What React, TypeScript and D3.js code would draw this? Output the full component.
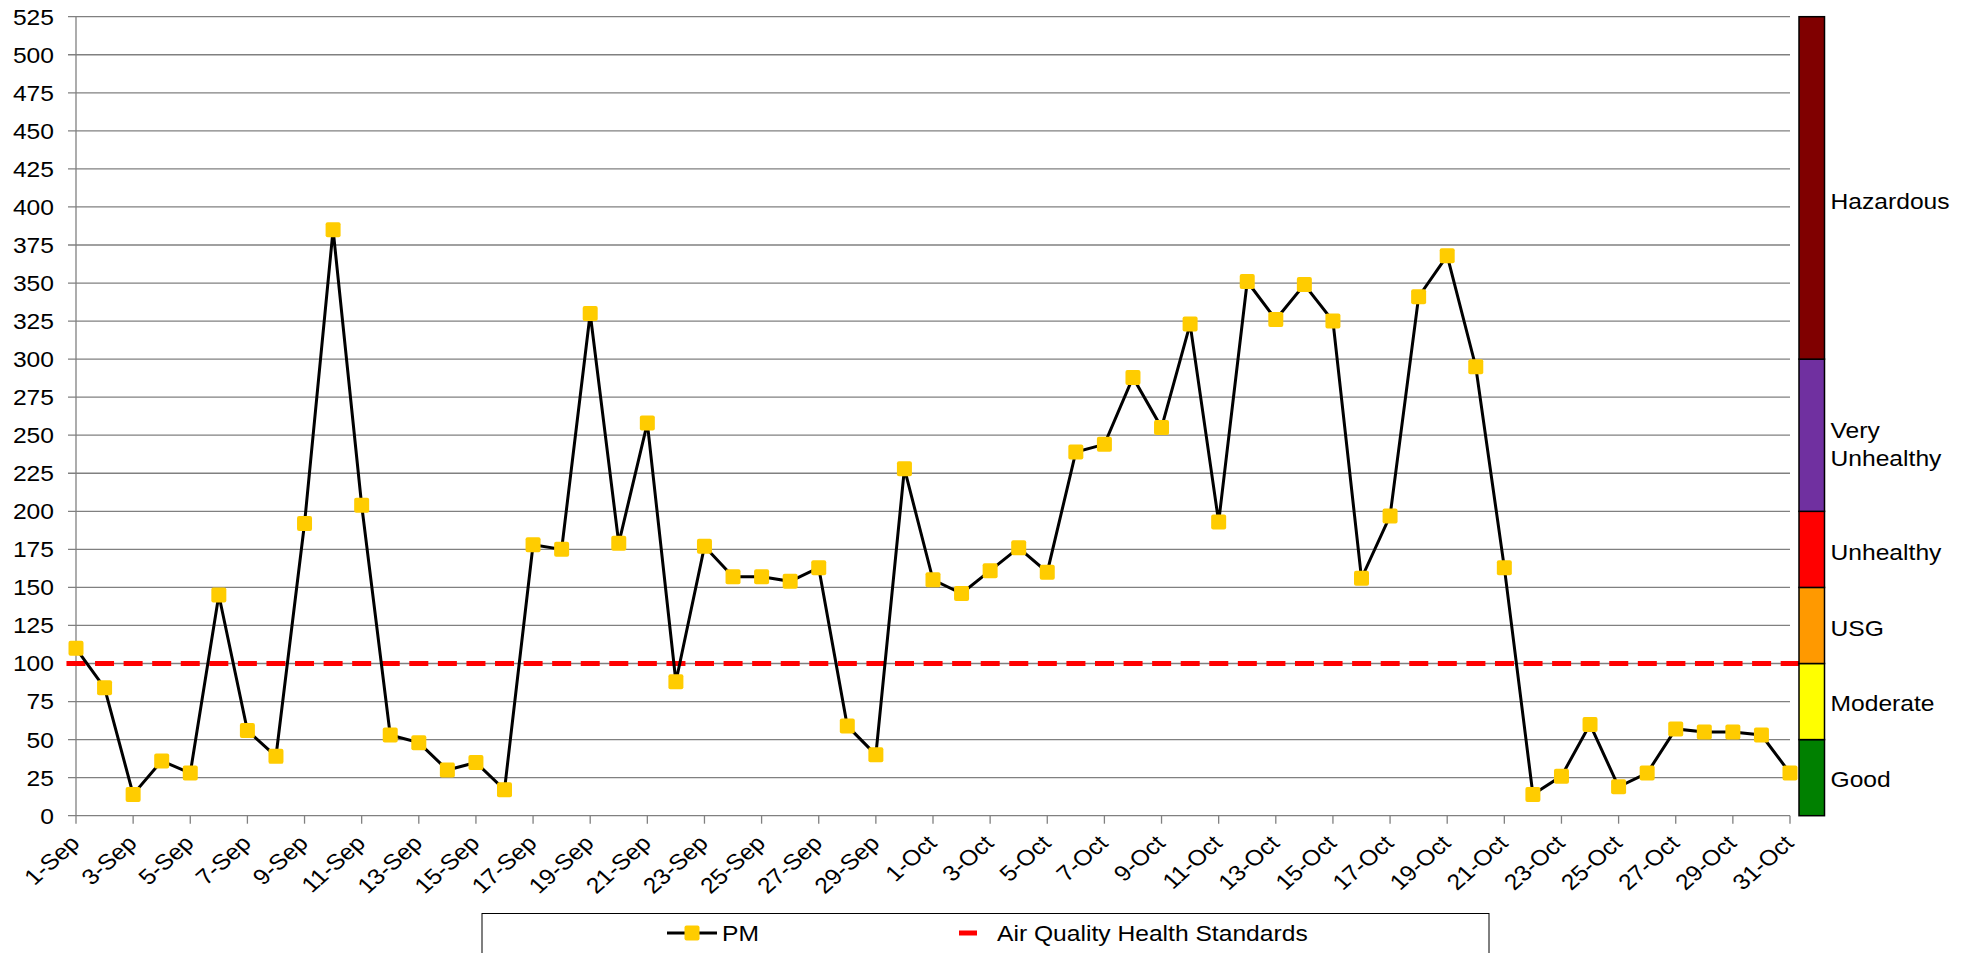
import React from 'react';
import * as d3 from 'd3';

// daily PM readings, 1-Sep .. 31-Oct
const pmSep = [110, 84, 14, 36, 28, 145, 56, 39, 192, 385, 204, 53, 48, 30, 35, 17, 178, 175, 330, 179, 258, 88, 177, 157, 157, 154, 163, 59, 40, 228];
const pmOct = [155, 146, 161, 176, 160, 239, 244, 288, 255, 323, 193, 351, 326, 349, 325, 156, 197, 341, 368, 295, 163, 14, 26, 60, 19, 28, 57, 55, 55, 53, 28];
const pmValues = [...pmSep, ...pmOct];

const standard = 100;

const bandNames = ['Good', 'Moderate', 'USG', 'Unhealthy', 'Very Unhealthy', 'Hazardous'];
const bandLimits = [0, 50, 100, 150, 200, 300, 525];
const bandColors = ['#008000', '#FFFF00', '#FF9900', '#FF0000', '#7030A0', '#800000'];
// where each band's label sits, in AQI units
const bandLabelAt = [24, 74, 123, 173, 244, 404];

const yTicks = d3.range(0, 526, 25);

const days = d3.timeDay.range(new Date(2010, 8, 1), new Date(2010, 10, 1));
const fmtDay = d3.timeFormat('%-d-%b');

const FONT = '"Liberation Sans", Arial, sans-serif';
const STRETCH = 1.12; // text in the original is a bit wide

const T: React.FC<{ x: number; y: number; anchor?: string; rotate?: number; children: React.ReactNode }> = ({ x, y, anchor = 'start', rotate = 0, children }) => (
  <text transform={`translate(${x},${y}) scale(${STRETCH},1)${rotate ? ` rotate(${rotate})` : ''}`}
    textAnchor={anchor} dy={rotate ? 0 : '0.36em'} fontSize={22} fill="#000">{children}</text>
);

const App: React.FC = () => {
  const W = 1970;
  const H = 953;
  const margin = { left: 76, right: 180, top: 16.7, bottom: 137.3 };
  const plotRight = W - margin.right;
  const plotBottom = H - margin.bottom;

  const x = d3.scaleTime()
    .domain([days[0], days[days.length - 1]])
    .range([margin.left, plotRight]);
  const y = d3.scaleLinear().domain([0, 525]).range([plotBottom, margin.top]);

  const series = days.map((d, i) => ({ date: d, value: pmValues[i] }));

  const line = d3.line<{ date: Date; value: number }>()
    .x(d => x(d.date))
    .y(d => y(d.value));

  const xTicks = days.filter((_, i) => i % 2 === 0);
  const dayW = x(days[1]) - x(days[0]);

  const barX = plotRight + 9;
  const barW = 25.5;
  const marker = 15;

  return (
    <svg width={W} height={H} style={{ position: 'absolute', left: 0, top: 0, background: '#fff' }}
      fontFamily={FONT}>
      {/* gridlines + y ticks */}
      {yTicks.map(t => (
        <g key={t}>
          <line x1={margin.left - 8} x2={plotRight} y1={y(t)} y2={y(t)} stroke="#808080" strokeWidth={1.3} />
          <T x={54} y={y(t)} anchor="end">{t}</T>
        </g>
      ))}
      {/* left axis */}
      <line x1={margin.left} x2={margin.left} y1={margin.top} y2={plotBottom} stroke="#808080" strokeWidth={1.3} />
      {/* x ticks */}
      {xTicks.map(d => (
        <g key={+d}>
          <line x1={x(d)} x2={x(d)} y1={plotBottom} y2={plotBottom + 8} stroke="#808080" strokeWidth={1.3} />
          <T x={x(d) + 5} y={plotBottom + 29} anchor="end" rotate={-45}>{fmtDay(d)}</T>
        </g>
      ))}

      {/* air quality standard */}
      <line x1={margin.left - dayW / 3} x2={barX} y1={y(standard)} y2={y(standard)}
        stroke="#FF0000" strokeWidth={5} strokeDasharray="19,9.57" />

      {/* PM series */}
      <path d={line(series) || ''} fill="none" stroke="#000" strokeWidth={3} />
      {series.map(d => (
        <rect key={+d.date} x={x(d.date) - marker / 2} y={y(d.value) - marker / 2} width={marker} height={marker}
          rx={2} fill="#FFCC00" />
      ))}

      {/* AQI colour bar */}
      {bandNames.map((name, i) => {
        const y0 = y(bandLimits[i]);
        const y1 = y(bandLimits[i + 1]);
        const mid = y(bandLabelAt[i]);
        const words = name === 'Very Unhealthy' ? ['Very', 'Unhealthy'] : [name];
        return (
          <g key={name}>
            <rect x={barX} y={y1} width={barW} height={y0 - y1} fill={bandColors[i]} stroke="#000" strokeWidth={1.5} />
            {words.map((w, j) => (
              <T key={w} x={barX + barW + 6} y={mid + (j - (words.length - 1) / 2) * 28}>{w}</T>
            ))}
          </g>
        );
      })}

      {/* legend */}
      <rect x={482} y={913.5} width={1007} height={60} fill="#fff" stroke="#000" strokeWidth={1} />
      <line x1={667} x2={717} y1={933} y2={933} stroke="#000" strokeWidth={3} />
      <rect x={692 - marker / 2} y={933 - marker / 2} width={marker} height={marker} rx={2} fill="#FFCC00" />
      <T x={722} y={933}>PM</T>
      <line x1={959} x2={977} y1={933} y2={933} stroke="#FF0000" strokeWidth={5} />
      <T x={997} y={933}>Air Quality Health Standards</T>
    </svg>
  );
};

export default App;
